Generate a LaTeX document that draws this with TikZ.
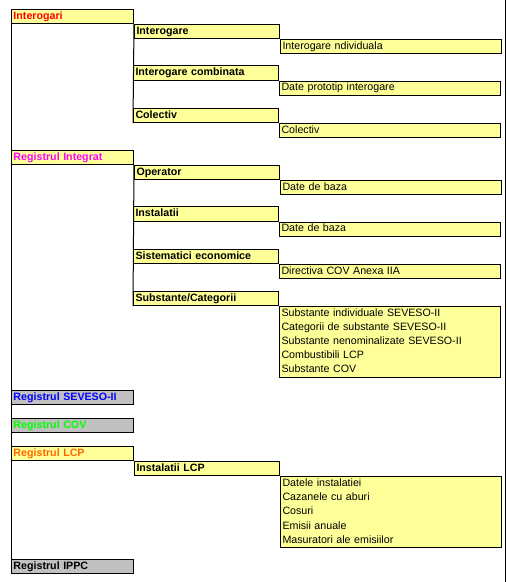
\documentclass[tikz,border=0pt]{standalone}
\usepackage{fontspec}
\setmainfont{Liberation Sans}
\usepackage{xcolor}
\usetikzlibrary{positioning}
\definecolor{boxyellow}{HTML}{FFFF99}
\definecolor{boxgray}{HTML}{C0C0C0}
\definecolor{lcporange}{HTML}{FF6600}
\definecolor{regmagenta}{HTML}{FF00FF}
\definecolor{regblue}{HTML}{0000FF}
\definecolor{reggreen}{HTML}{00FF00}
\definecolor{regred}{HTML}{FF0000}

\begin{document}
\begin{tikzpicture}[
        x=0.75pt, y=-0.75pt,
        box/.style={draw, rectangle, line width=0.75pt, anchor=north west, inner xsep=1.5pt, inner ysep=0pt, minimum height=10.575pt, text height=5.9pt, text depth=1.6pt, align=left},
        lvlone/.style={box, fill=boxyellow, text width=88.5pt, font=\fontsize{8pt}{10.575pt}\selectfont\bfseries},
        lvltwo/.style={box, fill=boxyellow, text width=105.75pt, font=\fontsize{8pt}{10.575pt}\selectfont\bfseries},
        lvlthree/.style={box, fill=boxyellow, text width=162.75pt, font=\fontsize{8pt}{10.575pt}\selectfont},
        lvllist/.style={lvlthree, text depth=43.9pt, minimum height=52.875pt},
        spine/.style={draw, line width=0.75pt}
    ]
        \useasboundingbox[fill=white] (0,0) rectangle (507,582);
        % level one
        \node[lvlone, text=regred] (interogari) at (11,9) {Interogari};
        \node[lvlone, text=regmagenta] (integrat) at (11,150) {Registrul Integrat};
        \node[lvlone, fill=boxgray, text=regblue] (seveso) at (11,389.7) {Registrul SEVESO-II};
        \node[lvlone, fill=boxgray, text=reggreen] (cov) at (11,417.9) {Registrul COV};
        \node[lvlone, text=lcporange] (lcp) at (11,446.1) {Registrul LCP};
        \node[lvlone, fill=boxgray] (ippc) at (11,558.9) {Registrul IPPC};

        % Interogari
        \node[lvltwo] (interogare) at (interogari.south east) {Interogare};
        \node[lvlthree] (individuala) at (interogare.south east) {Interogare ndividuala};
        \node[lvltwo] (combinata) at (133,65.4) {Interogare combinata};
        \node[lvlthree] (prototip) at (combinata.south east) {Date prototip interogare};
        \node[lvltwo] (colectiv) at (133,107.7) {Colectiv};
        \node[lvlthree] (colectivdet) at (colectiv.south east) {Colectiv};

        % Registrul Integrat
        \node[lvltwo] (operator) at (integrat.south east) {Operator};
        \node[lvlthree] (opbaza) at (operator.south east) {Date de baza};
        \node[lvltwo] (instalatii) at (133,206.4) {Instalatii};
        \node[lvlthree] (instbaza) at (instalatii.south east) {Date de baza};
        \node[lvltwo] (sistematici) at (133,248.7) {Sistematici economice};
        \node[lvlthree] (directiva) at (sistematici.south east) {Directiva COV Anexa IIA};
        \node[lvltwo] (substante) at (133,291) {Substante/Categorii};
        \node[lvllist] (sublist) at (substante.south east) {Substante individuale SEVESO-II\\Categorii de substante SEVESO-II\\Substante nenominalizate SEVESO-II\\Combustibili LCP\\Substante COV};

        % Registrul LCP
        \node[lvltwo] (instlcp) at (lcp.south east) {Instalatii LCP};
        \node[lvllist] (lcplist) at (instlcp.south east) {Datele instalatiei\\Cazanele cu aburi\\Cosuri\\Emisii anuale\\Masuratori ale emisiilor};

        % spines
        \draw[spine] (interogari.south west) -- (ippc.north west);
        \draw[spine] (interogari.south east) -- (colectiv.south west);
        \draw[spine] (integrat.south east) -- (substante.south west);
        \draw[spine] (505.5,0) -- (505.5,582);
    \end{tikzpicture}
\end{document}
